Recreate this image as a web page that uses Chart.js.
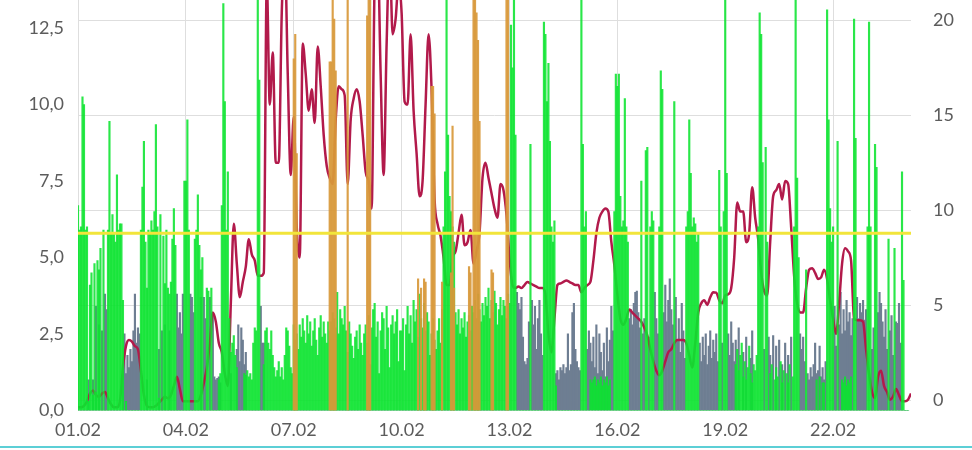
<!DOCTYPE html>
<html><head><meta charset="utf-8">
<script src="https://cdn.jsdelivr.net/npm/chart.js@4/dist/chart.umd.min.js"></script>
<style>
html,body{margin:0;padding:0;background:#fff;overflow:hidden}
#wrap{position:relative;width:972px;height:450px}
#c{display:block}
#rule{position:absolute;left:0;top:446px;width:972px;height:2px;background:#5ccfd6}
</style></head><body>
<div id="wrap"><canvas id="c" width="972" height="450"></canvas><div id="rule"></div></div>
<script>
// x-axis ticks (hours since 01.02 00:00)
const tickHours = [0,72,144,216,288,360,432,504];
const tickLabels = ["01.02","04.02","07.02","10.02","13.02","16.02","19.02","22.02"];
const leftTicks = [0,2.5,5,7.5,10,12.5];
const rightTicks = [0,5,10,15,20];
const limitValue = 5.79;

// hourly green bars, one row per day
const greenValues = [
6.7,5.9,6.0,10.25,10.0,5.9,6.0,0.3,4.1,4.5,0.5,4.8,0.6,4.9,4.6,5.3,0,5.9,0,0,5.9,9.45,5.8,6.4,
5.8,5.5,7.7,5.9,6.1,6.1,3.6,0,0.3,0,0,0,0,0,0,0,0,0,5.9,7.3,8.8,5.5,4.0,5.9,
5.8,6.2,5.9,6.5,9.35,6.0,0.4,6.4,0,5.7,4.15,5.9,4.0,3.8,4.2,5.6,6.6,5.4,0,0,0,0,0,7.5,
7.5,9.5,5.9,0,0,0,5.6,5.9,7.05,5.4,4.6,5.0,0,0,4.0,3.9,0,4.0,0,0,0,0,1.0,1.2,
6.7,13.3,10.1,5.9,7.8,3.0,1.9,2.2,2.45,1.8,1.4,0,0,0,0,1.2,1.15,1.3,1.1,1.2,1.0,2.2,2.7,2.6,
14,10.8,0,0,1.5,2.6,2.7,2.2,2.0,2.6,1.8,1.4,1.1,1.3,1.6,1.1,1.4,1.0,1.8,2.7,2.6,2.1,1.4,1.2,
2.8,2.3,2.5,2.0,2.8,2.4,3.0,2.6,2.2,3.1,2.5,2.9,2.1,2.6,3.0,2.3,1.8,2.7,3.1,2.4,2.9,2.5,2.2,2.9,
2.6,2.9,3.2,3.0,2.7,3.86,2.5,3.3,3.0,2.8,3.4,2.6,1.9,2.9,2.5,2.1,1.7,2.4,2.6,2.0,2.8,2.2,1.8,2.5,
2.8,2.2,3.1,1.5,2.7,3.3,3.5,2.4,2.9,1.2,2.6,3.2,3.0,2.0,3.4,2.7,1.4,2.8,3.1,2.5,2.9,3.3,1.6,2.6,
2.6,3.0,1.3,2.8,3.4,2.5,3.1,2.2,3.6,2.9,3.3,2.4,3.8,3.0,2.7,3.5,2.6,3.2,2.9,1.8,2.5,3.0,2.3,2.0,
2.6,3.0,2.2,3.3,6.0,7.8,14,9.0,7.0,6.5,6.0,5.5,3.2,2.8,3.3,2.5,3.0,2.7,3.2,2.4,2.9,3.1,2.6,3.4,
3.2,3.6,3.0,3.8,3.3,2.9,3.5,3.1,3.7,3.4,4.0,3.0,3.6,3.2,3.9,3.5,2.8,3.3,3.7,3.1,3.6,3.4,3.0,3.8,
3.5,12.6,11.2,14,9.0,0,0,0,0,0,0,0,0,0,8.7,0,0,0,0,0,0,0,0,12.7,
12.3,10.1,11.35,8.8,6.0,5.5,6.2,0.8,0,0,0,0,0,0,0,0,0,0,0,0,0,0,0,0,
14,8.7,6.0,6.5,0,0,1.0,0.9,1.0,1.1,0.8,1.0,0.9,1.1,0.8,1.0,0.9,1.1,0.8,1.0,0,0,6.5,11.0,
10.6,11.0,7.0,6.0,6.2,10.2,6.0,5.5,0,0,0,0,0,0,0,0,7.5,0,0,8.5,8.6,0,6.0,6.5,
6.2,0,0,0,6.0,11.1,10.5,0,0,0,0,0,0,0,10.1,0,0,0,0,0,0,0,6.0,6.5,
9.5,7.75,6.0,6.3,6.1,5.5,5.8,0,0,0,0,0,0,0,0,0,0,0,0,0,7.85,6.0,0,6.5,
14,7.75,0,0,0,0,0,1.5,2.0,1.3,1.8,2.2,1.1,1.6,1.0,1.4,2.1,1.2,0.9,1.5,1.3,1.8,6.0,13.0,
12.3,8.1,0,8.6,5.5,0,1.2,1.5,0,1.0,1.4,1.1,0,1.6,0.9,1.3,0,1.2,0.9,1.5,0,1.1,6.0,14,
7.6,5.0,0,0,0,0,4.6,0,0,0,0,0,0,1.0,0,1.1,0,0.9,0.9,0,13.1,9.5,6.6,5.5,
6.0,0,0,8.8,0,0,1.0,0.9,1.1,0.8,1.0,0.9,1.1,0,12.8,8.9,0,0,0,0,0,0,0,6.0,
12.7,6.0,0,0,8.7,7.95,0,0,0,0,0,0,0,5.6,0,0,0,5.3,0,0,0,0,7.8,4.25,
0,0,0
];

// hourly grey bars, one row per day
const greyValues = [
0,0,0,0,0,0,0,1.0,0,0,1.0,0,3.4,0,2.8,0,2.6,0,3.8,3.3,0,0,0,0,
0,0,0,0,0,0,1.5,2.5,1.2,1.8,1.4,2.0,1.6,2.6,3.8,2.2,2.7,2.5,0,0,0,0,1.0,0,
0,0,0,0,0,0,2.0,0,2.6,0,2.8,0,0,2.6,0,0,0,0,3.8,2.7,3.2,2.5,3.8,0,
0,0,0,3.8,3.7,3.2,0,0,0,0,3.7,0,3.7,3.0,0,0,3.7,0,3.2,1.1,1.0,1.05,1.1,0.9,
0,0,0,0,0,0,1.2,0,0,0,2.0,2.8,1.6,2.7,2.3,1.5,1.9,0,0,0,0,0,0,0,
0,0,3.4,2.2,2.2,0,0,0,0,0,0,0,0,0,0,0,0,0,0,0,0,0,0,0,
0,0,0,0,0,0,0,0,0,0,0,0,0,0,0,0,0,0,0,0,0,0,0,0,
0,0,0,0,0,0,0,0,0,0,0,0,0,0,0,0,0,0,0,0,0,0,0,0,
0,0,0,0,0,0,0,0,0,0,0,0,0,0,0,0,0,0,0,0,0,0,0,0,
0,0,0,0,0,0,0,0,0,0,0,0,0,0,0,0,0,0,0,0,0,0,0,0,
0,0,0,0,0,0,0,0,0,0,0,0,0,0,0,0,0,0,0,0,0,0,0,0,
0,0,0,0,0,0,0,0,0,0,0,0,0,0,0,0,0,0,0,0,0,0,0,0,
0,0,0,0,0,3.86,3.5,3.3,3.7,2.4,1.6,1.5,1.7,2.9,0,3.6,2.8,3.4,2.0,3.0,3.6,2.5,1.8,0,
0,0,0,0,0,0,0,1.2,1.3,1.0,1.4,1.3,1.5,1.2,1.4,2.5,1.3,1.5,3.2,3.5,2.0,1.6,1.4,1.3,
0,0,0,0,2.0,2.6,2.2,1.6,2.4,1.4,2.8,1.2,2.5,1.9,1.3,2.2,1.1,2.7,1.6,2.3,3.4,2.6,0,0,
0,0,0,0,0,0,0,0,3.0,3.3,2.8,3.5,3.86,3.9,3.2,2.7,0,2.5,3.0,0,0,2.4,0,0,
0,3.86,3.0,2.5,0,0,0,3.2,4.1,2.9,3.6,4.3,3.3,2.8,0,3.7,2.3,3.0,1.9,3.5,2.6,1.7,0,0,
0,0,0,0,0,0,0,2.2,1.6,2.4,1.8,2.5,1.5,2.1,2.6,1.7,2.3,1.9,2.5,1.6,0,0,2.2,0,
0,0,2.5,1.8,2.9,2.2,1.6,2.3,0,2.7,0,0,1.9,0,2.4,0,0,1.7,2.6,0,0,0,0,0,
0,0,2.0,0,0,2.4,1.8,0,2.45,0,2.1,0,2.3,0,1.5,0,2.2,0,1.8,0,2.4,0,0,0,
0,0,2.5,2.0,2.4,1.6,0,1.2,1.0,1.4,1.1,1.5,2.2,1.2,1.3,2.1,1.1,1.4,1.0,1.6,0,0,0,0,
0,3.4,2.1,0,2.8,3.86,2.5,3.3,2.6,3.6,2.9,3.2,2.45,3.0,0,0,3.7,3.0,3.5,3.2,3.6,2.95,3.3,0,
0,0,2.0,2.7,0,0,3.2,3.86,3.5,2.9,2.4,3.3,2.0,0,2.6,3.1,1.8,0,2.9,2.85,3.5,2.2,0,0,
0,0,0
];

// orange bars (sparse): hour index and value
const orangeHours  = [144,145,146,168,169,170,171,172,180,193,194,195,227,229,231,232,236,237,238,243,249,250,251,261,262,264,265,266,267,268,276,277,286,287];
const orangeValues = [11.5,12.3,8.4,11.4,11.4,14,12.8,11.1,14,12.9,14,14,4.3,4.0,4.3,4.2,10.6,10.6,9.7,4.2,4.5,9.3,4.0,4.7,4.5,14,14,13.0,12.1,9.45,4.6,4.5,14,14];

// crimson line, one value every 2 hours
const lineValues = [
0.1,0.1,0.15,0.3,0.55,0.65,0.5,0.45,0.55,0.6,
0.4,0.2,0.1,0.1,0.3,1.4,2.1,2.3,2.25,2.1,
2.0,1.3,0.5,0.15,0.1,0.1,0.15,0.25,0.35,0.45,
0.4,0.5,0.8,1.1,0.7,0.3,0.3,0.3,0.3,0.3,
0.3,0.5,0.9,1.4,2.2,3.2,2.9,2.2,1.9,1.2,
0.8,3.5,6.1,4.8,3.7,4.2,4.7,5.6,5.1,4.9,
4.4,4.4,4.5,14,10,11.7,8.1,8.1,13,15,
11,7.7,9.6,6.0,5.0,12.0,11.0,9.8,10.5,9.4,
11.9,10.6,9.0,8.0,7.6,7.4,9.5,10.6,10.5,10.3,
7.4,9.5,10.2,10.5,10.1,9.0,7.8,7.5,6.6,14,
15,11,7.7,12,15,12.3,12.8,14,13.0,10.1,
10.0,12.3,9.8,8.4,7.0,7.5,10.0,12.3,10.5,6.9,
6.1,5.7,5.0,4.1,4.1,5.0,5.2,5.8,6.4,5.4,
5.5,5.9,4.8,5.2,5.8,7.6,8.1,7.6,7.1,6.6,
6.3,7.4,7.2,6.4,5.0,4.1,4.0,4.05,4.0,4.1,
4.2,4.15,4.1,4.05,4.0,4.0,3.8,2.5,1.9,3.0,
4.1,4.15,4.2,4.25,4.2,4.15,4.1,4.1,3.86,4.0,
4.1,4.2,4.9,5.8,6.3,6.5,6.6,6.5,5.5,4.75,
3.8,3.0,2.8,3.0,3.3,3.2,3.1,3.0,2.9,2.7,
2.45,2.0,1.6,1.3,1.15,1.3,1.6,1.9,2.0,2.2,
2.3,2.3,2.3,2.2,1.8,1.4,2.2,3.2,3.5,3.6,
3.45,3.7,3.86,3.85,3.6,3.5,3.76,3.8,4.0,5.0,
6.8,6.5,6.5,5.5,5.8,7.3,6.3,5.6,4.5,3.9,
3.76,5.5,7.0,7.2,7.4,6.9,7.5,7.4,6.0,4.4,
3.5,3.2,3.2,4.0,4.6,4.65,4.5,4.3,4.35,4.6,
4.3,3.6,3.0,2.5,3.5,4.8,5.3,5.2,4.9,3.0,
2.95,2.95,2.9,2.0,1.2,0.6,0.4,1.1,1.3,0.8,
0.6,0.35,0.45,0.7,0.5,0.3,0.3,0.35,0.55
];

const xMax = 556;
const leftMax = 13.42;
const rightMin = -0.526, rightMax = 21.053;

const FONT = {family:'Lato', size:18};
const TXT = '#5c5c5c';
const GRID = '#dedede';

const barOpts = {barPercentage:1, categoryPercentage:1, grouped:false, borderWidth:0};
const noPad = (s)=>{ s.paddingTop = 0; s.paddingBottom = 0; };

new Chart(document.getElementById('c').getContext('2d'), {
  type:'bar',
  data:{datasets:[
    {type:'line', label:'limit', data:[{x:0,y:limitValue},{x:xMax,y:limitValue}],
      borderColor:'#f2e53a', borderWidth:3, pointRadius:0, order:0, yAxisID:'y'},
    Object.assign({type:'bar', label:'orange', order:1, yAxisID:'y',
      data: orangeHours.map((h,i)=>({x:h, y:orangeValues[i]})),
      backgroundColor:'rgba(216,152,58,0.92)'}, barOpts),
    Object.assign({type:'bar', label:'green', order:2, yAxisID:'y',
      data: greenValues.map((v,i)=>({x:i, y:v})),
      backgroundColor:'rgba(12,228,48,0.88)'}, barOpts),
    {type:'line', label:'line', order:3, yAxisID:'y',
      data: lineValues.map((v,i)=>({x:i*2, y:v})),
      borderColor:'#b21a4b', borderWidth:2.5, pointRadius:0,
      cubicInterpolationMode:'monotone', borderJoinStyle:'round'},
    Object.assign({type:'bar', label:'grey', order:4, yAxisID:'y',
      data: greyValues.map((v,i)=>({x:i, y:v})),
      backgroundColor:'#6e7e92'}, barOpts)
  ]},
  options:{
    responsive:false, animation:false, devicePixelRatio:1,
    layout:{padding:{left:0,right:0,top:0,bottom:0}},
    plugins:{legend:{display:false}, tooltip:{enabled:false}},
    scales:{
      x:{type:'linear', min:0, max:xMax, offset:false,
        grid:{color:GRID, drawTicks:false, offset:false, lineWidth:1},
        border:{display:false},
        afterBuildTicks:(ax)=>{ ax.ticks = tickHours.map(v=>({value:v})); },
        afterFit:(s)=>{ s.paddingLeft = 0; s.paddingRight = 0; },
        ticks:{padding:9, font:FONT, color:TXT, maxRotation:0, autoSkip:false,
          callback:(v,i)=>tickLabels[i]}
      },
      y:{type:'linear', position:'left', min:0, max:leftMax,
        grid:{display:false, drawTicks:false}, border:{display:false},
        afterBuildTicks:(ax)=>{ ax.ticks = leftTicks.map(v=>({value:v})); },
        afterFit:(s)=>{ s.width = 78; noPad(s); },
        ticks:{padding:14, font:FONT, color:TXT,
          callback:(v)=>Number(v).toFixed(1).replace('.',',')}
      },
      y1:{type:'linear', position:'right', min:rightMin, max:rightMax,
        grid:{color:GRID, drawTicks:false, lineWidth:1}, border:{display:false},
        afterBuildTicks:(ax)=>{ ax.ticks = rightTicks.map(v=>({value:v})); },
        afterFit:(s)=>{ s.width = 61; noPad(s); },
        ticks:{padding:22, font:FONT, color:TXT, callback:(v)=>String(v)}
      }
    }
  }
});
</script>
</body></html>
